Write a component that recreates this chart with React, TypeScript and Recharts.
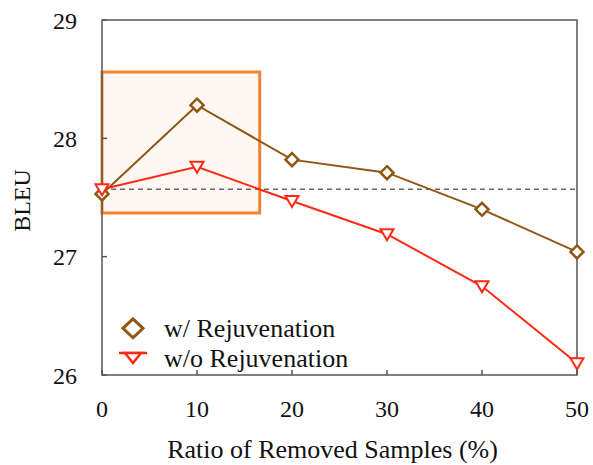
import React from 'react'
import { LineChart, Line, XAxis, YAxis, ReferenceLine, ReferenceArea, Legend } from 'recharts'

const ratios = [0, 10, 20, 30, 40, 50]
const withRejuvenation = [27.53, 28.28, 27.82, 27.71, 27.4, 27.04]
const withoutRejuvenation = [27.57, 27.76, 27.47, 27.19, 26.75, 26.1]
const baselineBleu = 27.57
const xTicks = [0, 10, 20, 30, 40, 50]
const yTicks = [26, 27, 28, 29]
const highlightX = [0, 16.6]
const highlightY = [27.37, 28.56]

const FONT = '"Liberation Serif", Tinos, "Times New Roman", "Nimbus Roman", FreeSerif, "DejaVu Serif", serif'
const AXIS = '#555555'
const BROWN = '#8f5712'
const RED = '#ff2a12'
const ORANGE = '#f5822f'
const X_MARGIN = 25
const Y_MARGIN = 25

const chartData = ratios.map((ratio, i) => ({
  ratio,
  withR: withRejuvenation[i],
  withoutR: withoutRejuvenation[i],
}))

const diamondPath = (cx: number, cy: number, w: number, h: number) =>
  `M${cx},${cy - h} L${cx + w},${cy} L${cx},${cy + h} L${cx - w},${cy} Z`

const trianglePath = (cx: number, cy: number, w: number, up: number, down: number) =>
  `M${cx - w},${cy - up} L${cx + w},${cy - up} L${cx},${cy + down} Z`

function XTick({ x, y, payload }: any) {
  return (
    <g>
      <line x1={x} x2={x} y1={y - X_MARGIN} y2={y - X_MARGIN - 5} stroke={AXIS} strokeWidth={1.5} />
      <text x={x} y={y} dy="0.71em" textAnchor="middle" fontSize={24} fontFamily={FONT} fill="#111">
        {payload.value}
      </text>
    </g>
  )
}

function YTick({ x, y, payload }: any) {
  return (
    <g>
      <line x1={x + Y_MARGIN} x2={x + Y_MARGIN + 5} y1={y} y2={y} stroke={AXIS} strokeWidth={1.5} />
      <text x={x} y={y} dy="0.355em" textAnchor="end" fontSize={24} fontFamily={FONT} fill="#111">
        {payload.value}
      </text>
    </g>
  )
}

function renderLegend() {
  const rowStyle: React.CSSProperties = {
    display: 'flex',
    alignItems: 'center',
    height: 30,
    lineHeight: '30px',
    fontSize: 26,
    fontFamily: FONT,
    color: '#111',
    whiteSpace: 'nowrap',
  }
  return (
    <div>
      <div style={rowStyle}>
        <svg width={30} height={30}>
          <path d={diamondPath(15, 14.3, 10, 9.5)} fill="none" stroke={BROWN} strokeWidth={3} />
        </svg>
        <span style={{ marginLeft: 16 }}>w/ Rejuvenation</span>
      </div>
      <div style={rowStyle}>
        <svg width={30} height={30}>
          <line x1={1} x2={29} y1={9} y2={9} stroke={RED} strokeWidth={2.5} />
          <path d={trianglePath(15, 13, 8, 4, 6)} fill="#fff" stroke={RED} strokeWidth={2.5} />
        </svg>
        <span style={{ marginLeft: 16 }}>w/o Rejuvenation</span>
      </div>
    </div>
  )
}

export default function App() {
  return (
    <div style={{ position: 'absolute', left: 0, top: 0, background: '#fff' }}>
      <LineChart width={593} height={465} data={chartData} margin={{ top: 20, right: 16, left: 0, bottom: 0 }}>
        <XAxis
          dataKey="ratio"
          type="number"
          domain={[0, 50]}
          ticks={xTicks}
          height={90}
          axisLine={false}
          tickLine={false}
          tickSize={0}
          tickMargin={X_MARGIN}
          tick={<XTick />}
          label={{
            value: 'Ratio of Removed Samples (%)',
            position: 'insideBottom',
            offset: 7,
            dx: -7,
            fontSize: 26,
            fontFamily: FONT,
            fill: '#111',
          }}
        />
        <YAxis
          type="number"
          domain={[26, 29]}
          ticks={yTicks}
          width={102}
          axisLine={false}
          tickLine={false}
          tickSize={0}
          tickMargin={Y_MARGIN}
          tick={<YTick />}
          label={{
            value: 'BLEU',
            position: 'center',
            angle: -90,
            dx: -30,
            dy: 3,
            fontSize: 24,
            fontFamily: FONT,
            fill: '#111',
          }}
        />
        <ReferenceLine y={baselineBleu} stroke="#666" strokeWidth={1.5} strokeDasharray="5 4" />
        <Line
          dataKey="withR"
          stroke={BROWN}
          strokeWidth={2}
          isAnimationActive={false}
          dot={(p: any) => (
            <path key={`d${p.index}`} d={diamondPath(p.cx, p.cy, 6.5, 6.5)} fill="#fff" stroke={BROWN} strokeWidth={2.5} />
          )}
        />
        <Line
          dataKey="withoutR"
          stroke={RED}
          strokeWidth={2}
          isAnimationActive={false}
          dot={(p: any) => (
            <path key={`t${p.index}`} d={trianglePath(p.cx, p.cy, 6.5, 5, 6)} fill="#fff" stroke={RED} strokeWidth={2} />
          )}
        />
        <ReferenceArea
          x1={highlightX[0]}
          x2={highlightX[1]}
          y1={highlightY[0]}
          y2={highlightY[1]}
          fill={ORANGE}
          fillOpacity={0.06}
          stroke={ORANGE}
          strokeOpacity={1}
          strokeWidth={3}
        />
        <ReferenceArea x1={0} x2={50} y1={26} y2={29} fill="none" stroke={AXIS} strokeWidth={1.5} />
        <Legend
          layout="vertical"
          align="center"
          verticalAlign="middle"
          wrapperStyle={{ left: 118, top: 314 }}
          content={renderLegend}
        />
      </LineChart>
    </div>
  )
}
